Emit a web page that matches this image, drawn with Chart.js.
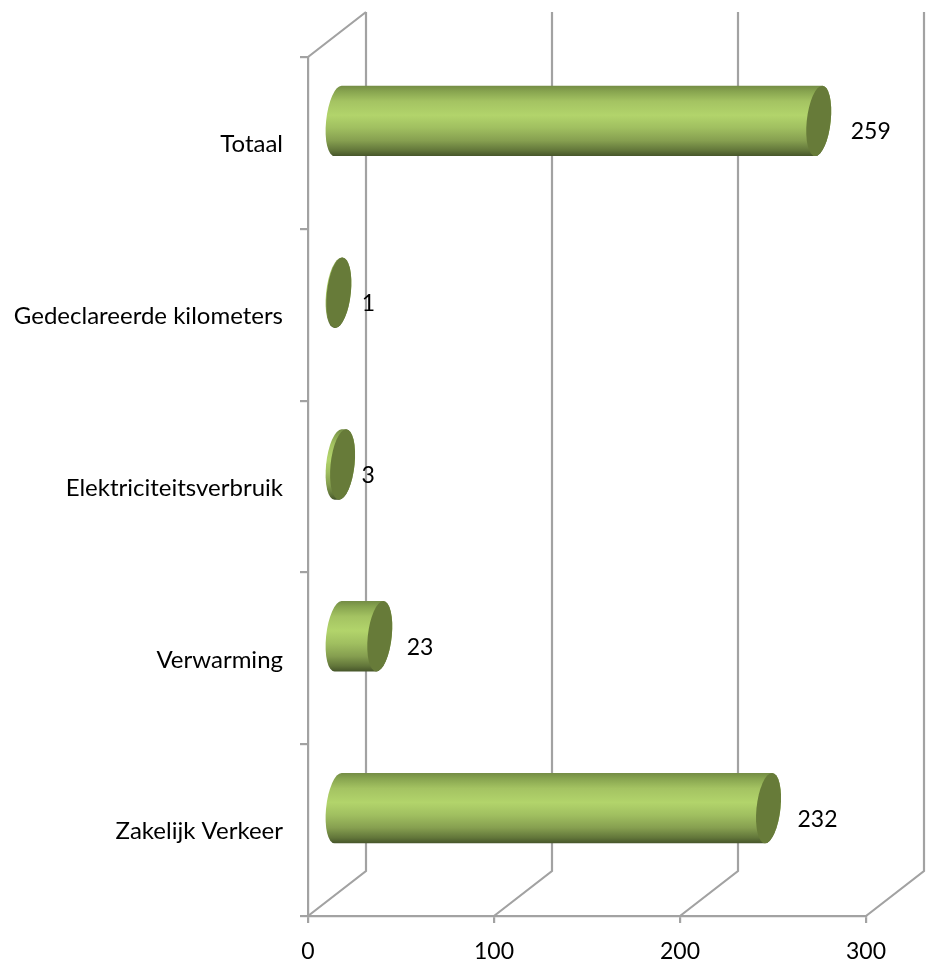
<!DOCTYPE html>
<html>
<head>
<meta charset="utf-8">
<style>
  html, body { margin: 0; padding: 0; background: #fff; }
</style>
<script src="https://cdn.jsdelivr.net/npm/chart.js@4"></script>
</head>
<body>
<canvas id="chart" width="926" height="962"></canvas>
<script>
const categories = ["Totaal", "Gedeclareerde kilometers", "Elektriciteitsverbruik", "Verwarming", "Zakelijk Verkeer"];
const values = [259, 1, 3, 23, 232];
const xTicks = [0, 100, 200, 300];

// 3d look of the old office chart, depth of the back wall in px
const depthX = 58;
const depthY = 45;
const gridColor = "#a2a2a2";
const gridWidth = 2.2;
const labelFont = "23px Lato";
// the value labels were not placed evenly in the original
const labelGap = [61, 52, 48, 56, 58];

const wallPlugin = {
  id: "wall",
  beforeDatasetsDraw(chart) {
    const { ctx, scales } = chart;
    const x = scales.x;
    const y = scales.y;
    ctx.save();
    ctx.strokeStyle = gridColor;
    ctx.lineWidth = gridWidth;
    ctx.beginPath();
    // diagonal from top of left wall
    ctx.moveTo(x.left, y.top);
    ctx.lineTo(x.left + depthX, y.top - depthY);
    xTicks.forEach((t) => {
      const px = x.getPixelForValue(t);
      ctx.moveTo(px, y.bottom);
      ctx.lineTo(px + depthX, y.bottom - depthY);
      ctx.lineTo(px + depthX, y.top - depthY);
    });
    ctx.stroke();
    ctx.restore();
  },
};

const cylinderPlugin = {
  id: "cylinder",
  afterDatasetsDraw(chart) {
    const { ctx } = chart;
    const meta = chart.getDatasetMeta(0);
    meta.data.forEach((bar, i) => {
      const h = bar.height / 2;
      const rx = 12;
      const left = bar.base + depthX / 2;
      const len = bar.x - bar.base;
      const cy = bar.y - depthY / 2 + 0.5;

      ctx.save();
      // lean the whole thing so the caps look tilted
      ctx.transform(1, 0, -0.1, 1, left, cy);

      const grad = ctx.createLinearGradient(0, -h, 0, h);
      grad.addColorStop(0, "#748c45");
      grad.addColorStop(0.08, "#87a44f");
      grad.addColorStop(0.22, "#a4c362");
      grad.addColorStop(0.42, "#b2d46b");
      grad.addColorStop(0.6, "#a0bf60");
      grad.addColorStop(0.78, "#869f50");
      grad.addColorStop(0.92, "#62763a");
      grad.addColorStop(1, "#46552a");

      ctx.beginPath();
      ctx.ellipse(0, 0, rx, h, 0, Math.PI / 2, Math.PI * 1.5);
      ctx.lineTo(len, -h);
      ctx.ellipse(len, 0, rx, h, 0, -Math.PI / 2, Math.PI / 2);
      ctx.closePath();
      ctx.fillStyle = grad;
      ctx.fill();

      ctx.beginPath();
      ctx.ellipse(len, 0, rx, h, 0, 0, Math.PI * 2);
      ctx.fillStyle = "#677b39";
      ctx.fill();
      ctx.restore();

      ctx.save();
      ctx.font = labelFont;
      ctx.fillStyle = "#000";
      ctx.textAlign = "left";
      ctx.textBaseline = "middle";
      ctx.fillText(String(values[i]), bar.x + labelGap[i], bar.y - 11);
      ctx.restore();
    });
  },
};

new Chart(document.getElementById("chart"), {
  type: "bar",
  data: {
    labels: categories,
    datasets: [
      {
        data: values,
        backgroundColor: "transparent",
        barPercentage: 0.41,
        categoryPercentage: 1,
      },
    ],
  },
  options: {
    indexAxis: "y",
    responsive: false,
    animation: false,
    layout: { padding: { top: 57, right: 60, left: 0, bottom: 0 } },
    plugins: {
      legend: { display: false },
      title: { display: false },
      tooltip: { enabled: false },
    },
    scales: {
      x: {
        min: 0,
        max: 300,
        afterBuildTicks: (scale) => {
          scale.ticks = xTicks.map((v) => ({ value: v }));
        },
        afterFit: (scale) => {
          scale.height = 46;
        },
        grid: { drawOnChartArea: false, color: gridColor, tickLength: 7, lineWidth: gridWidth },
        border: { color: gridColor, width: gridWidth },
        ticks: { color: "#000", font: { family: "Lato", size: 23 }, padding: 15, maxRotation: 0 },
      },
      y: {
        afterFit: (scale) => {
          scale.width = 308;
        },
        grid: { drawOnChartArea: false, color: gridColor, tickLength: 8, lineWidth: gridWidth },
        border: { color: gridColor, width: gridWidth },
        ticks: { color: "#000", font: { family: "Lato", size: 24 }, padding: 17, autoSkip: false, labelOffset: 1.5 },
      },
    },
  },
  plugins: [wallPlugin, cylinderPlugin],
});
</script>
</body>
</html>
